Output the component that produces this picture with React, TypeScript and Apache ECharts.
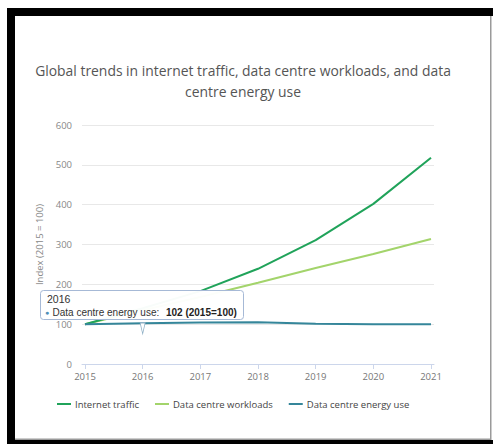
import React, { useEffect, useRef } from "react";
import * as echarts from "echarts";

const years = [2015, 2016, 2017, 2018, 2019, 2020, 2021];
const internetTraffic = [100, 140, 183, 239, 311, 402, 518];
const dataCentreWorkloads = [100, 135, 168, 204, 241, 276, 314];
const dataCentreEnergyUse = [100, 102, 104, 105, 101, 100, 100];
const yTicks = [0, 100, 200, 300, 400, 500, 600];
const seriesNames = ["Internet traffic", "Data centre workloads", "Data centre energy use"];
const tooltipIndex = 1;

const COLORS = ["#20a35a", "#a3d46b", "#35869a"];
const FONT = "'Open Sans', sans-serif";

export default function App() {
  const ref = useRef<HTMLDivElement>(null);
  useEffect(() => {
    if (!ref.current) return;
    const chart = echarts.init(ref.current, null, { renderer: "svg" });
    const pairs = (vals: number[]) => years.map((y, i) => [y, vals[i]]);
    const tipYear = years[tooltipIndex];
    const tipVal = dataCentreEnergyUse[tooltipIndex];
    chart.setOption({
      animation: false,
      backgroundColor: "#ffffff",
      color: COLORS,
      title: {
        text: "Global trends in internet traffic, data centre workloads, and data\ncentre energy use",
        left: 238,
        textAlign: "center",
        top: 55,
        textStyle: {
          fontFamily: FONT,
          fontSize: 13.9,
          fontWeight: "normal",
          color: "#555555",
          lineHeight: 21,
        },
      },
      legend: {
        top: 394,
        left: 52,
        itemWidth: 14,
        itemHeight: 2,
        itemGap: 16,
        icon: "rect",
        textStyle: { fontFamily: FONT, fontSize: 9.5, color: "#444444", padding: [0, 0, 0, -1] },
        data: seriesNames,
      },
      grid: { left: 82, right: 59, top: 125, bottom: 80, containLabel: false },
      xAxis: {
        type: "value",
        min: 2014.948,
        max: 2021.052,
        axisLine: { show: true, lineStyle: { color: "#ccd6eb" } },
        axisTick: { show: true, length: 5, customValues: years, lineStyle: { color: "#ccd6eb" } },
        axisLabel: {
          customValues: years,
          formatter: (v: number) => String(v),
          fontFamily: FONT,
          fontSize: 9.5,
          color: "#777777",
          margin: 7,
        },
        splitLine: { show: false },
      },
      yAxis: {
        type: "value",
        min: yTicks[0],
        max: yTicks[yTicks.length - 1],
        interval: 100,
        name: "Index (2015 = 100)",
        nameLocation: "middle",
        nameGap: 34,
        nameTextStyle: { fontFamily: FONT, fontSize: 9.5, color: "#888888" },
        axisLine: { show: false },
        axisTick: { show: false },
        axisLabel: { fontFamily: FONT, fontSize: 9.5, color: "#888888", margin: 10 },
        splitLine: { lineStyle: { color: "#e8e8e8" } },
      },
      series: [
        {
          name: seriesNames[0],
          type: "line",
          data: pairs(internetTraffic),
          showSymbol: false,
          lineStyle: { width: 2, color: COLORS[0] },
          z: 3,
        },
        {
          name: seriesNames[1],
          type: "line",
          data: pairs(dataCentreWorkloads),
          showSymbol: false,
          lineStyle: { width: 2, color: COLORS[1] },
          z: 2,
        },
        {
          name: seriesNames[2],
          type: "line",
          data: pairs(dataCentreEnergyUse),
          showSymbol: false,
          lineStyle: { width: 2, color: COLORS[2] },
          z: 4,
          markPoint: {
            symbol: "path://M0,0 L6,0 L3,12 Z",
            symbolSize: [5, 11],
            symbolOffset: [0, 5],
            label: { show: false },
            itemStyle: { color: "#ffffff", borderColor: "#8fb0c6", borderWidth: 1 },
            data: [{ coord: [tipYear, tipVal] }],
            z: 5,
          },
        },
      ],
      graphic: [
        // frame
        { type: "rect", z: 200, shape: { x: 7, y: 8, width: 486, height: 8 }, style: { fill: "#000000" } },
        { type: "rect", z: 200, shape: { x: 7, y: 8, width: 8, height: 436 }, style: { fill: "#000000" } },
        { type: "rect", z: 200, shape: { x: 7, y: 440, width: 486, height: 4 }, style: { fill: "#000000" } },
        { type: "rect", z: 200, shape: { x: 490, y: 16, width: 1.5, height: 424 }, style: { fill: "#9a9a9a" } },
        { type: "rect", z: 200, shape: { x: 15, y: 438.5, width: 476, height: 1.5 }, style: { fill: "#9a9a9a" } },
        // tooltip
        {
          type: "group",
          z: 150,
          children: [
            {
              type: "rect",
              z: 150,
              shape: { x: 40.5, y: 290.5, width: 203, height: 29, r: 3 },
              style: { fill: "rgba(255,255,255,0.97)", stroke: "#a6b9d6", lineWidth: 1 },
            },
            {
              type: "text",
              z: 151,
              x: 47,
              y: 293,
              style: {
                text: String(tipYear),
                fontFamily: "'Liberation Sans', Arial, sans-serif",
                fontSize: 10.5,
                fill: "#333333",
              },
            },
            {
              type: "text",
              z: 151,
              x: 45,
              y: 306,
              style: {
                text: `{dot|●} {lbl|${seriesNames[2]}:}  {val|${tipVal} (2015=100)}`,
                rich: {
                  dot: { fontSize: 7, fill: "#4f8fb8", fontFamily: "'Liberation Sans', Arial, sans-serif" },
                  lbl: { fontSize: 10, fill: "#333333", fontFamily: "'Liberation Sans', Arial, sans-serif" },
                  val: {
                    fontSize: 10,
                    fontWeight: "bold",
                    fill: "#222222",
                    fontFamily: "'Liberation Sans', Arial, sans-serif",
                  },
                },
              },
            },
          ],
        },
      ],
    });
    return () => chart.dispose();
  }, []);
  return (
    <div
      ref={ref}
      style={{ position: "fixed", left: 0, top: 0, width: 493, height: 444 }}
    />
  );
}
